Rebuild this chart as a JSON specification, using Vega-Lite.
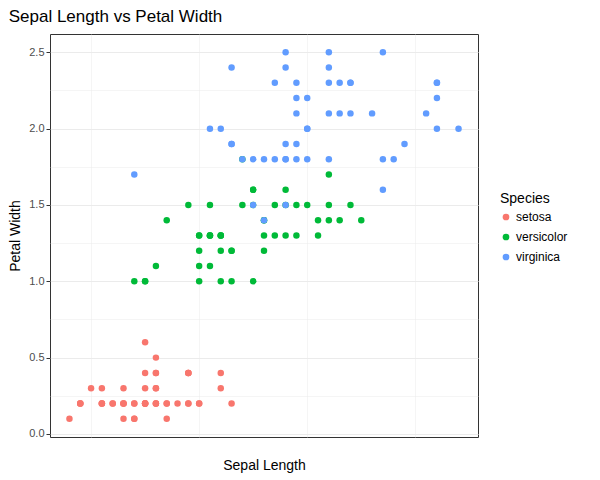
{
  "$schema": "https://vega.github.io/schema/vega-lite/v6.json",
  "width": 428,
  "height": 403,
  "padding": {"left": 8, "top": 8, "right": 5, "bottom": 5},
  "background": "white",
  "title": {"text": "Sepal Length vs Petal Width", "anchor": "start", "frame": "bounds", "fontSize": 17, "fontWeight": "normal", "font": "Liberation Sans", "color": "black", "offset": 8},
  "config": {
    "font": "Liberation Sans",
    "view": {"stroke": "#333333", "strokeWidth": 1},
    "axis": {"gridColor": "#ebebeb", "domain": false, "tickColor": "#333333", "tickSize": 4, "labelColor": "#4d4d4d", "labelFontSize": 11, "titleFontSize": 14, "titleFontWeight": "normal", "titleColor": "black"},
    "legend": {"titleFontSize": 14, "titleFontWeight": "normal", "labelFontSize": 12, "titleColor": "black", "labelColor": "black"}
  },
  "data": {"values": [
    {"s":5.1,"w":0.2,"sp":"setosa"},{"s":4.9,"w":0.2,"sp":"setosa"},{"s":4.7,"w":0.2,"sp":"setosa"},{"s":4.6,"w":0.2,"sp":"setosa"},{"s":5.0,"w":0.2,"sp":"setosa"},
    {"s":5.4,"w":0.4,"sp":"setosa"},{"s":4.6,"w":0.3,"sp":"setosa"},{"s":5.0,"w":0.2,"sp":"setosa"},{"s":4.4,"w":0.2,"sp":"setosa"},{"s":4.9,"w":0.1,"sp":"setosa"},
    {"s":5.4,"w":0.2,"sp":"setosa"},{"s":4.8,"w":0.2,"sp":"setosa"},{"s":4.8,"w":0.1,"sp":"setosa"},{"s":4.3,"w":0.1,"sp":"setosa"},{"s":5.8,"w":0.2,"sp":"setosa"},
    {"s":5.7,"w":0.4,"sp":"setosa"},{"s":5.4,"w":0.4,"sp":"setosa"},{"s":5.1,"w":0.3,"sp":"setosa"},{"s":5.7,"w":0.3,"sp":"setosa"},{"s":5.1,"w":0.3,"sp":"setosa"},
    {"s":5.4,"w":0.2,"sp":"setosa"},{"s":5.1,"w":0.4,"sp":"setosa"},{"s":4.6,"w":0.2,"sp":"setosa"},{"s":5.1,"w":0.5,"sp":"setosa"},{"s":4.8,"w":0.2,"sp":"setosa"},
    {"s":5.0,"w":0.2,"sp":"setosa"},{"s":5.0,"w":0.4,"sp":"setosa"},{"s":5.2,"w":0.2,"sp":"setosa"},{"s":5.2,"w":0.2,"sp":"setosa"},{"s":4.7,"w":0.2,"sp":"setosa"},
    {"s":4.8,"w":0.2,"sp":"setosa"},{"s":5.4,"w":0.4,"sp":"setosa"},{"s":5.2,"w":0.1,"sp":"setosa"},{"s":5.5,"w":0.2,"sp":"setosa"},{"s":4.9,"w":0.2,"sp":"setosa"},
    {"s":5.0,"w":0.2,"sp":"setosa"},{"s":5.5,"w":0.2,"sp":"setosa"},{"s":4.9,"w":0.1,"sp":"setosa"},{"s":4.4,"w":0.2,"sp":"setosa"},{"s":5.1,"w":0.2,"sp":"setosa"},
    {"s":5.0,"w":0.3,"sp":"setosa"},{"s":4.5,"w":0.3,"sp":"setosa"},{"s":4.4,"w":0.2,"sp":"setosa"},{"s":5.0,"w":0.6,"sp":"setosa"},{"s":5.1,"w":0.4,"sp":"setosa"},
    {"s":4.8,"w":0.3,"sp":"setosa"},{"s":5.1,"w":0.2,"sp":"setosa"},{"s":4.6,"w":0.2,"sp":"setosa"},{"s":5.3,"w":0.2,"sp":"setosa"},{"s":5.0,"w":0.2,"sp":"setosa"},
    {"s":7.0,"w":1.4,"sp":"versicolor"},{"s":6.4,"w":1.5,"sp":"versicolor"},{"s":6.9,"w":1.5,"sp":"versicolor"},{"s":5.5,"w":1.3,"sp":"versicolor"},{"s":6.5,"w":1.5,"sp":"versicolor"},
    {"s":5.7,"w":1.3,"sp":"versicolor"},{"s":6.3,"w":1.6,"sp":"versicolor"},{"s":4.9,"w":1.0,"sp":"versicolor"},{"s":6.6,"w":1.3,"sp":"versicolor"},{"s":5.2,"w":1.4,"sp":"versicolor"},
    {"s":5.0,"w":1.0,"sp":"versicolor"},{"s":5.9,"w":1.5,"sp":"versicolor"},{"s":6.0,"w":1.0,"sp":"versicolor"},{"s":6.1,"w":1.4,"sp":"versicolor"},{"s":5.6,"w":1.3,"sp":"versicolor"},
    {"s":6.7,"w":1.4,"sp":"versicolor"},{"s":5.6,"w":1.5,"sp":"versicolor"},{"s":5.8,"w":1.0,"sp":"versicolor"},{"s":6.2,"w":1.5,"sp":"versicolor"},{"s":5.6,"w":1.1,"sp":"versicolor"},
    {"s":5.9,"w":1.8,"sp":"versicolor"},{"s":6.1,"w":1.3,"sp":"versicolor"},{"s":6.3,"w":1.5,"sp":"versicolor"},{"s":6.1,"w":1.2,"sp":"versicolor"},{"s":6.4,"w":1.3,"sp":"versicolor"},
    {"s":6.6,"w":1.4,"sp":"versicolor"},{"s":6.8,"w":1.4,"sp":"versicolor"},{"s":6.7,"w":1.7,"sp":"versicolor"},{"s":6.0,"w":1.5,"sp":"versicolor"},{"s":5.7,"w":1.0,"sp":"versicolor"},
    {"s":5.5,"w":1.1,"sp":"versicolor"},{"s":5.5,"w":1.0,"sp":"versicolor"},{"s":5.8,"w":1.2,"sp":"versicolor"},{"s":6.0,"w":1.6,"sp":"versicolor"},{"s":5.4,"w":1.5,"sp":"versicolor"},
    {"s":6.0,"w":1.6,"sp":"versicolor"},{"s":6.7,"w":1.5,"sp":"versicolor"},{"s":6.3,"w":1.3,"sp":"versicolor"},{"s":5.6,"w":1.3,"sp":"versicolor"},{"s":5.5,"w":1.3,"sp":"versicolor"},
    {"s":5.5,"w":1.2,"sp":"versicolor"},{"s":6.1,"w":1.4,"sp":"versicolor"},{"s":5.8,"w":1.2,"sp":"versicolor"},{"s":5.0,"w":1.0,"sp":"versicolor"},{"s":5.6,"w":1.3,"sp":"versicolor"},
    {"s":5.7,"w":1.2,"sp":"versicolor"},{"s":5.7,"w":1.3,"sp":"versicolor"},{"s":6.2,"w":1.3,"sp":"versicolor"},{"s":5.1,"w":1.1,"sp":"versicolor"},{"s":5.7,"w":1.3,"sp":"versicolor"},
    {"s":6.3,"w":2.5,"sp":"virginica"},{"s":5.8,"w":1.9,"sp":"virginica"},{"s":7.1,"w":2.1,"sp":"virginica"},{"s":6.3,"w":1.8,"sp":"virginica"},{"s":6.5,"w":2.2,"sp":"virginica"},
    {"s":7.6,"w":2.1,"sp":"virginica"},{"s":4.9,"w":1.7,"sp":"virginica"},{"s":7.3,"w":1.8,"sp":"virginica"},{"s":6.7,"w":1.8,"sp":"virginica"},{"s":7.2,"w":2.5,"sp":"virginica"},
    {"s":6.5,"w":2.0,"sp":"virginica"},{"s":6.4,"w":1.9,"sp":"virginica"},{"s":6.8,"w":2.1,"sp":"virginica"},{"s":5.7,"w":2.0,"sp":"virginica"},{"s":5.8,"w":2.4,"sp":"virginica"},
    {"s":6.4,"w":2.3,"sp":"virginica"},{"s":6.5,"w":1.8,"sp":"virginica"},{"s":7.7,"w":2.2,"sp":"virginica"},{"s":7.7,"w":2.3,"sp":"virginica"},{"s":6.0,"w":1.5,"sp":"virginica"},
    {"s":6.9,"w":2.3,"sp":"virginica"},{"s":5.6,"w":2.0,"sp":"virginica"},{"s":7.7,"w":2.0,"sp":"virginica"},{"s":6.3,"w":1.8,"sp":"virginica"},{"s":6.7,"w":2.1,"sp":"virginica"},
    {"s":7.2,"w":1.8,"sp":"virginica"},{"s":6.2,"w":1.8,"sp":"virginica"},{"s":6.1,"w":1.8,"sp":"virginica"},{"s":6.4,"w":2.1,"sp":"virginica"},{"s":7.2,"w":1.6,"sp":"virginica"},
    {"s":7.4,"w":1.9,"sp":"virginica"},{"s":7.9,"w":2.0,"sp":"virginica"},{"s":6.4,"w":2.2,"sp":"virginica"},{"s":6.3,"w":1.5,"sp":"virginica"},{"s":6.1,"w":1.4,"sp":"virginica"},
    {"s":7.7,"w":2.3,"sp":"virginica"},{"s":6.3,"w":2.4,"sp":"virginica"},{"s":6.4,"w":1.8,"sp":"virginica"},{"s":6.0,"w":1.8,"sp":"virginica"},{"s":6.9,"w":2.1,"sp":"virginica"},
    {"s":6.7,"w":2.4,"sp":"virginica"},{"s":6.9,"w":2.3,"sp":"virginica"},{"s":5.8,"w":1.9,"sp":"virginica"},{"s":6.8,"w":2.3,"sp":"virginica"},{"s":6.7,"w":2.5,"sp":"virginica"},
    {"s":6.7,"w":2.3,"sp":"virginica"},{"s":6.3,"w":1.9,"sp":"virginica"},{"s":6.5,"w":2.0,"sp":"virginica"},{"s":6.2,"w":2.3,"sp":"virginica"},{"s":5.9,"w":1.8,"sp":"virginica"}
  ]},
  "mark": {"type": "circle", "size": 42, "opacity": 1},
  "encoding": {
    "x": {"field": "s", "type": "quantitative", "title": "Sepal Length",
      "scale": {"domain": [4.12, 8.08], "nice": false, "zero": false},
      "axis": {"values": [4.5, 5, 5.5, 6, 6.5, 7, 7.5, 8], "format": "d", "labelExpr": "datum.value % 1 === 0 ? datum.label : ''",
        "tickOpacity": {"condition": {"test": "datum.value % 1 !== 0", "value": 0}, "value": 1},
        "gridWidth": {"condition": {"test": "datum.value % 1 !== 0", "value": 0.5}, "value": 1}, "titlePadding": 4}},
    "y": {"field": "w", "type": "quantitative", "title": "Petal Width",
      "scale": {"domain": [-0.02, 2.62], "nice": false, "zero": false},
      "axis": {"values": [0, 0.25, 0.5, 0.75, 1, 1.25, 1.5, 1.75, 2, 2.25, 2.5], "format": ".1f",
        "labelExpr": "(datum.value * 4) % 2 === 0 ? datum.label : ''",
        "tickOpacity": {"condition": {"test": "(datum.value * 4) % 2 !== 0", "value": 0}, "value": 1},
        "gridWidth": {"condition": {"test": "(datum.value * 4) % 2 !== 0", "value": 0.5}, "value": 1}, "titlePadding": 6}},
    "color": {"field": "sp", "type": "nominal", "title": "Species",
      "scale": {"domain": ["setosa", "versicolor", "virginica"], "range": ["#F8766D", "#00BA38", "#619CFF"]},
      "legend": {"symbolType": "circle", "symbolSize": 45, "rowPadding": 8, "padding": 0, "orient": "none", "legendX": 450, "legendY": 158}}
  }
}
